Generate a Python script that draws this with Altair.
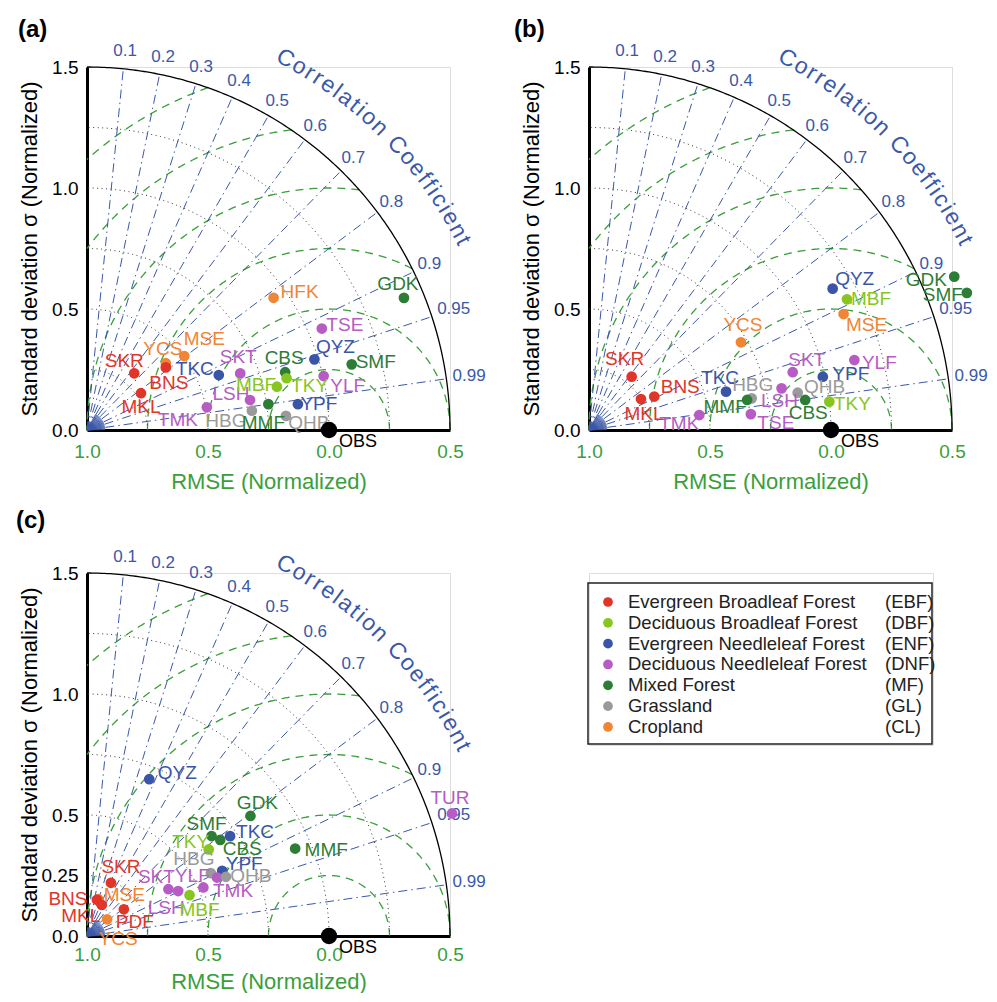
import altair as alt
import numpy as np
import pandas as pd

FONT = "Liberation Sans"

# ---------------- data ----------------
CLASS_NAMES = ["Evergreen Broadleaf Forest", "Deciduous Broadleaf Forest",
               "Evergreen Needleleaf Forest", "Deciduous Needleleaf Forest",
               "Mixed Forest", "Grassland", "Cropland"]
CLASS_ABBR = ["EBF", "DBF", "ENF", "DNF", "MF", "GL", "CL"]
CLASS_COLORS = ["#e2352a", "#86c61e", "#3a55a8", "#b65cc4", "#2e7d36", "#9a9a9a", "#f08535"]

SITE_CLASS = {
    "SKR": "EBF", "BNS": "EBF", "MKL": "EBF", "PDF": "EBF",
    "MBF": "DBF", "TKY": "DBF",
    "TKC": "ENF", "QYZ": "ENF", "YPF": "ENF",
    "SKT": "DNF", "TMK": "DNF", "LSH": "DNF", "TSE": "DNF", "YLF": "DNF", "TUR": "DNF",
    "MMF": "MF", "CBS": "MF", "GDK": "MF", "SMF": "MF",
    "HBG": "GL", "QHB": "GL",
    "YCS": "CL", "MSE": "CL", "HFK": "CL",
}

# panel (a): normalized standard deviation and correlation
A_SITES = ["SKR", "YCS", "BNS", "MSE", "MKL", "TKC", "SKT", "TMK", "LSH", "HBG", "MMF",
           "MBF", "HFK", "GDK", "TSE", "QYZ", "SMF", "CBS", "TKY", "YLF", "YPF", "QHB"]
A_STD = [0.305, 0.427, 0.416, 0.505, 0.270, 0.590, 0.675, 0.504, 0.685, 0.686, 0.757,
         0.805, 0.945, 1.419, 1.057, 0.984, 1.127, 0.853, 0.852, 1.003, 0.878, 0.824]
A_CORR = [0.640, 0.763, 0.783, 0.796, 0.826, 0.923, 0.938, 0.9825, 0.9835, 0.9932, 0.990,
          0.975, 0.816, 0.923, 0.918, 0.955, 0.9706, 0.960, 0.968, 0.975, 0.9926, 0.9975]

# panel (b)
B_SITES = ["YCS", "SKR", "MKL", "BNS", "TKC", "HBG", "MMF", "TMK", "TSE", "LSH", "QHB",
           "CBS", "SKT", "YPF", "TKY", "YLF", "QYZ", "MBF", "MSE", "GDK", "SMF"]
B_STD = [0.725, 0.282, 0.250, 0.303, 0.588, 0.685, 0.665, 0.460, 0.672, 0.814, 0.876,
         0.902, 0.875, 0.991, 1.000, 1.134, 1.164, 1.195, 1.156, 1.637, 1.661]
B_CORR = [0.866, 0.625, 0.859, 0.890, 0.963, 0.9816, 0.9824, 0.9909, 0.9952, 0.9774, 0.9844,
          0.9905, 0.962, 0.975, 0.9931, 0.967, 0.865, 0.892, 0.910, 0.922, 0.940]

# panel (c)
C_SITES = ["QYZ", "GDK", "SMF", "CBS", "TKC", "TKY", "HBG", "YPF", "TMK", "QHB", "YLF",
           "SKT", "LSH", "MBF", "SKR", "MSE", "BNS", "MKL", "PDF", "YCS", "TUR", "MMF"]
C_STD = [0.697, 0.838, 0.660, 0.679, 0.721, 0.617, 0.574, 0.620, 0.589, 0.624, 0.521,
         0.388, 0.420, 0.456, 0.241, 0.159, 0.155, 0.142, 0.188, 0.108, 1.591, 0.933]
C_CORR = [0.369, 0.806, 0.780, 0.811, 0.820, 0.815, 0.892, 0.901, 0.912, 0.920, 0.923,
          0.867, 0.897, 0.929, 0.410, 0.295, 0.265, 0.430, 0.810, 0.769, 0.948, 0.922]

CORR_TICKS = [0.1, 0.2, 0.3, 0.4, 0.5, 0.6, 0.7, 0.8, 0.9, 0.95, 0.99]
CORR_TICK_LABELS = ["0.1", "0.2", "0.3", "0.4", "0.5", "0.6", "0.7", "0.8", "0.9", "0.95", "0.99"]
STD_LEVELS = [0.25, 0.5, 0.75, 1.0, 1.25]
RMSE_LEVELS = [0.25, 0.5, 0.75, 1.0, 1.25, 1.5]
STD_MAX = 1.5

# label placement (pixel offsets of the label centre from its point)
A_LABEL = {"SKR": (-10, -12), "YCS": (-3, -14), "BNS": (3, 16), "MSE": (20, -17), "MKL": (0, 14),
           "TKC": (-24, -6), "SKT": (-2, -16), "TMK": (-29, 13), "LSH": (-19, -6), "HBG": (-26, 10),
           "MMF": (-5, 19), "MBF": (-21, -2), "HFK": (26, -6), "GDK": (-6, -14), "TSE": (23, -4),
           "QYZ": (21, -12), "SMF": (24, -2), "CBS": (-1, -14), "TKY": (23, 8), "YLF": (24, 10),
           "YPF": (21, 0), "QHB": (23, 7)}
B_LABEL = {"YCS": (2, -17), "SKR": (-7, -18), "MKL": (3, 15), "BNS": (26, -10), "TKC": (-6, -14),
           "HBG": (1, -13), "MMF": (-22, 7), "TMK": (-20, 9), "TSE": (25, 9), "LSH": (-2, 13),
           "QHB": (27, -6), "CBS": (3, 13), "SKT": (14, -12), "YPF": (28, -3), "TKY": (23, 2),
           "YLF": (25, 3), "QYZ": (22, -10), "MBF": (24, 0), "MSE": (23, 11), "GDK": (-28, 3),
           "SMF": (-24, 2)}
C_LABEL = {"QYZ": (28, -6), "GDK": (7, -13), "SMF": (-5, -12), "CBS": (22, 9), "TKC": (25, -4),
           "TKY": (-18, -7), "HBG": (-17, -14), "YPF": (22, -7), "TMK": (16, 13), "QHB": (25, -1),
           "YLF": (-11, -11), "SKT": (-12, -12), "LSH": (-12, 17), "MBF": (10, 15), "SKR": (10, -16),
           "MSE": (26, -4), "BNS": (-29, -1), "MKL": (-21, 11), "PDF": (11, 13), "YCS": (11, 20),
           "TUR": (-2, -15), "MMF": (31, 1)}

# ---------------- styling ----------------
PANEL = 363
PX = PANEL / STD_MAX
GREEN = "#3a9e3a"
BLUE = "#3b58a8"
XS = alt.Scale(domain=[0, STD_MAX], nice=False, zero=False)
YS = alt.Scale(domain=[0, STD_MAX], nice=False, zero=False)
CS = alt.Scale(domain=CLASS_ABBR, range=CLASS_COLORS)


def xaxis(lp, tp):
    return alt.Axis(values=[0, 0.5, 1.0, 1.5],
                    labelExpr="format(abs(1 - datum.value), '.1f')",
                    labelColor=GREEN, labelFontSize=19, labelFont=FONT, labelPadding=lp,
                    labelFlush=False, labelOverlap=False,
                    ticks=False, tickSize=0, grid=False,
                    domainColor="black", domainWidth=3,
                    title="RMSE (Normalized)", titleColor=GREEN, titleFontSize=22,
                    titleFont=FONT, titleFontWeight="normal", titlePadding=tp)


def yaxis(vals):
    return alt.Axis(values=vals,
                    labelExpr="datum.value == 0.25 ? '0.25' : format(datum.value, '.1f')",
                    labelColor="black", labelFontSize=19, labelFont=FONT, labelPadding=9,
                    labelFlush=False, labelOverlap=False,
                    ticks=False, tickSize=0, grid=False,
                    domainColor="black", domainWidth=3,
                    title="Standard deviation σ (Normalized)", titleColor="black",
                    titleFontSize=22, titleFont=FONT, titleFontWeight="normal", titleX=-46)


# ---------------- guide geometry ----------------
def rmse_arcs():
    rows = []
    for k, rho in enumerate(RMSE_LEVELS):
        t0 = np.arccos(np.clip((STD_MAX ** 2 - 1 - rho ** 2) / (2 * rho), -1, 1))
        t1 = np.arccos(np.clip(-1 / rho, -1, 1))
        for i, t in enumerate(np.linspace(t0, t1, 200)):
            rows.append({"g": k, "i": i, "x": 1 + rho * np.cos(t), "y": rho * np.sin(t)})
    return pd.DataFrame(rows)


def std_arcs(levels):
    rows = []
    for k, r in enumerate(levels):
        for i, t in enumerate(np.linspace(0, np.pi / 2, 200)):
            rows.append({"g": k, "i": i, "x": r * np.cos(t), "y": r * np.sin(t)})
    return pd.DataFrame(rows)


def corr_lines():
    rows = []
    for k, c in enumerate(CORR_TICKS):
        phi = np.arccos(c)
        for i, r in enumerate([0.0, STD_MAX]):
            rows.append({"g": k, "i": i, "x": r * np.cos(phi), "y": r * np.sin(phi)})
    return pd.DataFrame(rows)


def fan_lines():
    rows = []
    for k, deg in enumerate(np.arange(1.5, 62, 2.5)):
        phi = np.radians(deg)
        for i, r in enumerate([0.0, 0.075]):
            rows.append({"g": k, "i": i, "x": r * np.cos(phi), "y": r * np.sin(phi)})
    return pd.DataFrame(rows)


def corr_labels():
    rows = []
    for c, lab in zip(CORR_TICKS, CORR_TICK_LABELS):
        phi = np.arccos(c)
        r = 1.572 if len(lab) == 3 else 1.595
        rows.append({"x": r * np.cos(phi), "y": r * np.sin(phi), "lab": lab})
    return pd.DataFrame(rows)


def curved_title():
    text = "Correlation Coefficient"
    w = {"C": .722, "o": .556, "r": .333, "e": .556, "l": .222, "a": .556, "t": .278,
         "i": .222, "n": .556, " ": .278, "f": .278, "c": .5}
    pos, centers = 0.0, []
    for ch in text:
        centers.append(pos + w[ch] / 2)
        pos += w[ch] + 0.11
    c0, c1 = centers[0], centers[-1]
    phi0, phi1, r = 61.9, 26.7, 1.74
    rows = []
    for ch, cc in zip(text, centers):
        phi = phi0 + (cc - c0) / (c1 - c0) * (phi1 - phi0)
        p = np.radians(phi)
        rows.append({"x": r * np.cos(p), "y": r * np.sin(p), "ch": ch, "rot": 90 - phi})
    return pd.DataFrame(rows)


def panel(sites, std, corr, offsets, letter, letter_off, yvals, lp, tp):
    std = np.asarray(std)
    corr = np.asarray(corr)
    df = pd.DataFrame({"site": sites, "cls": [SITE_CLASS[s] for s in sites]})
    df["x"] = std * corr
    df["y"] = std * np.sqrt(1 - corr ** 2)
    lab = df.copy()
    lab["x"] = df["x"] + np.array([offsets[s][0] for s in sites]) / PX
    lab["y"] = df["y"] - np.array([offsets[s][1] for s in sites]) / PX

    enc = dict(x=alt.X("x:Q", scale=XS, axis=xaxis(lp, tp)),
               y=alt.Y("y:Q", scale=YS, axis=yaxis(yvals)))
    layers = []
    layers.append(alt.Chart(rmse_arcs()).mark_line(color=GREEN, strokeWidth=1.3, strokeDash=[8, 6])
                  .encode(**enc, detail="g:N", order="i:Q"))
    layers.append(alt.Chart(std_arcs(STD_LEVELS)).mark_line(color="#333333", strokeWidth=1, strokeDash=[1, 3.5])
                  .encode(**enc, detail="g:N", order="i:Q"))
    layers.append(alt.Chart(corr_lines()).mark_line(color=BLUE, strokeWidth=1, strokeDash=[9, 4, 1.5, 4])
                  .encode(**enc, detail="g:N", order="i:Q"))
    layers.append(alt.Chart(fan_lines()).mark_line(color=BLUE, strokeWidth=0.8)
                  .encode(**enc, detail="g:N", order="i:Q"))
    layers.append(alt.Chart(std_arcs([STD_MAX])).mark_line(color="black", strokeWidth=1.3)
                  .encode(**enc, detail="g:N", order="i:Q"))
    layers.append(alt.Chart(corr_labels()).mark_text(font=FONT, fontSize=17, color=BLUE,
                                                     align="center", baseline="middle")
                  .encode(**enc, text="lab:N"))
    layers.append(alt.Chart(curved_title()).mark_text(font=FONT, fontSize=23, color=BLUE,
                                                      align="center", baseline="middle")
                  .encode(**enc, text="ch:N", angle=alt.Angle("rot:Q", scale=None)))
    layers.append(alt.Chart(df).mark_circle(size=115, opacity=1)
                  .encode(**enc, color=alt.Color("cls:N", scale=CS, legend=None)))
    layers.append(alt.Chart(lab).mark_text(font=FONT, fontSize=19, align="center", baseline="middle")
                  .encode(**enc, text="site:N", color=alt.Color("cls:N", scale=CS, legend=None)))
    obs = pd.DataFrame({"x": [1.0], "y": [0.0], "t": ["OBS"]})
    obs_lab = pd.DataFrame({"x": [1.0 + 29 / PX], "y": [-12 / PX], "t": ["OBS"]})
    layers.append(alt.Chart(obs).mark_circle(size=270, opacity=1, color="black").encode(**enc))
    layers.append(alt.Chart(obs_lab).mark_text(font=FONT, fontSize=18, color="black",
                                               align="center", baseline="middle")
                  .encode(**enc, text="t:N"))
    one = pd.DataFrame({"t": [letter]})
    layers.append(alt.Chart(one).mark_text(font=FONT, fontSize=24, fontWeight="bold", color="black",
                                           align="left", baseline="middle")
                  .encode(x=alt.value(letter_off[0]), y=alt.value(letter_off[1]), text="t:N"))
    return alt.layer(*layers).properties(width=PANEL, height=PANEL)


pa = panel(A_SITES, A_STD, A_CORR, A_LABEL, "(a)", (-69, -37), [0, 0.5, 1.0, 1.5], 12, 10)
pb = panel(B_SITES, B_STD, B_CORR, B_LABEL, "(b)", (-75, -37), [0, 0.5, 1.0, 1.5], 12, 10)
pc = panel(C_SITES, C_STD, C_CORR, C_LABEL, "(c)", (-71, -52), [0, 0.25, 0.5, 1.0, 1.5], 9, 7)

# legend panel, laid out in its own pixel-unit frame
LEG_W, LEG_H = 344, 172
LXS = alt.Scale(domain=[0, LEG_W], range=[0, LEG_W], nice=False, zero=False)
LYS = alt.Scale(domain=[0, LEG_H], range=[0, LEG_H], nice=False, zero=False)
n = len(CLASS_ABBR)
leg_df = pd.DataFrame({"cls": CLASS_ABBR, "name": CLASS_NAMES,
                       "abbr": ["(" + a + ")" for a in CLASS_ABBR],
                       "ry": [29 + k * 20.83 for k in range(n)],
                       "dx": [19] * n, "nx": [39] * n, "ax": [296] * n})
box_df = pd.DataFrame({"x0": [-1], "x1": [343], "y0": [10], "y1": [171]})
box = alt.Chart(box_df).mark_rect(fillOpacity=0, stroke="#222222", strokeWidth=1.5).encode(
    x=alt.X("x0:Q", scale=LXS, axis=None), x2="x1:Q",
    y=alt.Y("y0:Q", scale=LYS, axis=None), y2="y1:Q")
dots = alt.Chart(leg_df).mark_circle(size=95, opacity=1).encode(
    x=alt.X("dx:Q", scale=LXS, axis=None), y=alt.Y("ry:Q", scale=LYS, axis=None),
    color=alt.Color("cls:N", scale=CS, legend=None))
names = alt.Chart(leg_df).mark_text(font=FONT, fontSize=18.5, color="#222222", align="left",
                                    baseline="middle").encode(
    x=alt.X("nx:Q", scale=LXS, axis=None), y=alt.Y("ry:Q", scale=LYS, axis=None), text="name:N")
abbrs = alt.Chart(leg_df).mark_text(font=FONT, fontSize=18.5, color="#222222", align="left",
                                    baseline="middle").encode(
    x=alt.X("ax:Q", scale=LXS, axis=None), y=alt.Y("ry:Q", scale=LYS, axis=None), text="abbr:N")
legend = alt.layer(box, dots, names, abbrs).properties(width=LEG_W, height=LEG_H)

chart = alt.concat(pa, pb, pc, legend, columns=2,
                   spacing={"row": 143, "column": 139}, bounds="flush").properties(
    padding={"left": 7, "top": 9, "right": 0, "bottom": 0}
).configure_view(stroke="transparent", strokeWidth=0).configure(font=FONT)

chart.save("out.html", embed_options={"renderer": "svg", "actions": False})
